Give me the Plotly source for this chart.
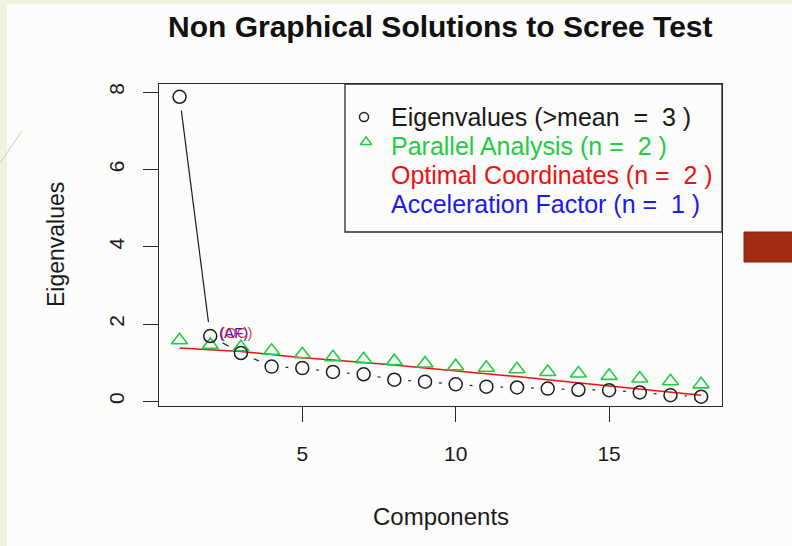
import math
import plotly.graph_objects as go

# ---------------- data ----------------
components = list(range(1, 19))
eigenvalues = [7.88, 1.69, 1.25, 0.90, 0.86, 0.76, 0.70, 0.56, 0.51,
               0.44, 0.38, 0.36, 0.33, 0.30, 0.29, 0.23, 0.16, 0.12]
parallel = [1.58, 1.46, 1.40, 1.31, 1.22, 1.14, 1.09, 1.04, 0.98,
            0.91, 0.87, 0.83, 0.76, 0.72, 0.66, 0.59, 0.52, 0.44]
optimal_coord = [1.38, 1.34, 1.29, 1.21, 1.13, 1.07, 1.01, 0.94, 0.86,
                 0.79, 0.72, 0.64, 0.56, 0.48, 0.40, 0.32, 0.24, 0.16]
x_ticks = [5, 10, 15]
y_ticks = [0, 2, 4, 6, 8]
n_mean, n_pa, n_oc, n_af = 3, 2, 2, 1
legend_labels = [
    "Eigenvalues (>mean\u00a0\u00a0=\u00a0\u00a0%d )" % n_mean,
    "Parallel Analysis (n =\u00a0\u00a0%d )" % n_pa,
    "Optimal Coordinates (n =\u00a0\u00a0%d )" % n_oc,
    "Acceleration Factor (n =\u00a0\u00a0%d )" % n_af,
]

# ---------------- layout constants ----------------
W, H = 792, 546
L, R, T, B = 159, 70, 84, 140
PW, PH = W - L - R, H - T - B
XR = [0.33, 18.68]
YR = [-0.12, 8.21]
FONT = "Liberation Sans, Arial, Helvetica, sans-serif"
BLACK = "#1e1e1e"
GREEN = "#22cc44"
RED = "#ee1111"
BLUE = "#1a1aee"


def px2x(px):
    return (px - L) / PW


def py2y(py):
    return (T + PH - py) / PH


# type="b" line: segments between points with a gap around each point
sx = PW / (XR[1] - XR[0])
sy = PH / (YR[1] - YR[0])
gap = 14.0
lx, ly = [], []
for i in range(len(components) - 1):
    x0, y0 = components[i], eigenvalues[i]
    x1, y1 = components[i + 1], eigenvalues[i + 1]
    dxp, dyp = (x1 - x0) * sx, (y1 - y0) * sy
    length = math.hypot(dxp, dyp)
    if length > 2 * gap:
        ux, uy = dxp / length, dyp / length
        lx += [x0 + gap * ux / sx, x1 - gap * ux / sx, None]
        ly += [y0 + gap * uy / sy, y1 - gap * uy / sy, None]

fig = go.Figure()

fig.add_trace(go.Scatter(x=lx, y=ly, mode="lines",
                         line=dict(color=BLACK, width=1.2),
                         hoverinfo="skip", showlegend=False))
fig.add_trace(go.Scatter(x=components, y=optimal_coord, mode="lines",
                         line=dict(color=RED, width=1.5),
                         showlegend=False, name="Optimal Coordinates"))
fig.add_trace(go.Scatter(x=components, y=parallel, mode="markers",
                         marker=dict(symbol="triangle-up-open", size=14,
                                     color=GREEN, line=dict(width=1.6, color=GREEN)),
                         showlegend=False, name="Parallel Analysis"))
fig.add_trace(go.Scatter(x=components, y=eigenvalues, mode="markers",
                         marker=dict(symbol="circle-open", size=13,
                                     color=BLACK, line=dict(width=1.5, color=BLACK)),
                         showlegend=False, name="Eigenvalues"))

# legend symbols on an overlay axis spanning [0,1] of the plot area
leg_sym_x = [px2x(364), px2x(366)]
leg_sym_y = [py2y(117), py2y(142)]
fig.add_trace(go.Scatter(x=leg_sym_x[:1], y=leg_sym_y[:1], xaxis="x2", yaxis="y2",
                         mode="markers",
                         marker=dict(symbol="circle-open", size=9, color=BLACK,
                                     line=dict(width=1.4, color=BLACK)),
                         showlegend=False, hoverinfo="skip"))
fig.add_trace(go.Scatter(x=leg_sym_x[1:], y=leg_sym_y[1:], xaxis="x2", yaxis="y2",
                         mode="markers",
                         marker=dict(symbol="triangle-up-open", size=10, color=GREEN,
                                     line=dict(width=1.4, color=GREEN)),
                         showlegend=False, hoverinfo="skip"))

annotations = []
# title
annotations.append(dict(text="<b>Non Graphical Solutions to Scree Test</b>",
                        xref="paper", yref="paper", x=0.5, y=py2y(26),
                        xanchor="center", yanchor="middle", showarrow=False,
                        font=dict(family=FONT, size=30, color="#111111")))
# axis titles
annotations.append(dict(text="Components", xref="paper", yref="paper",
                        x=0.5, y=py2y(516), xanchor="center", yanchor="middle",
                        showarrow=False, font=dict(family=FONT, size=24, color="#1a1a1a")))
annotations.append(dict(text="Eigenvalues", xref="paper", yref="paper",
                        x=px2x(56), y=0.5, xanchor="center", yanchor="middle",
                        textangle=-90, showarrow=False,
                        font=dict(family=FONT, size=23, color="#1a1a1a")))
# legend texts
leg_colors = ["#1a1a1a", GREEN, RED, BLUE]
leg_py = [117, 146, 175, 204]
for lab, col, py in zip(legend_labels, leg_colors, leg_py):
    annotations.append(dict(text=lab, xref="paper", yref="paper",
                            x=px2x(389), y=py2y(py), xanchor="left", yanchor="middle",
                            showarrow=False, font=dict(family=FONT, size=25, color=col)))
# (AF) and (OC) labels at the second eigenvalue
annotations.append(dict(text="(AF)", x=components[1], y=eigenvalues[1],
                        xanchor="left", yanchor="middle", xshift=7, yshift=4,
                        showarrow=False, font=dict(family=FONT, size=15, color=BLUE)))
annotations.append(dict(text="(OC)", x=components[1], y=eigenvalues[1],
                        xanchor="left", yanchor="middle", xshift=8, yshift=4,
                        showarrow=False, font=dict(family=FONT, size=15, color=RED),
                        opacity=0.85))

shapes = [
    # white slide area
    dict(type="rect", xref="paper", yref="paper", layer="below",
         x0=px2x(7), x1=px2x(W), y0=py2y(H), y1=py2y(4),
         fillcolor="#fcfcfb", line=dict(width=0)),
    # faint decorative diagonal
    dict(type="line", xref="paper", yref="paper", layer="above",
         x0=px2x(0), y0=py2y(163), x1=px2x(22), y1=py2y(131),
         line=dict(color="#c9ccbb", width=1)),
    # legend box
    dict(type="rect", xref="paper", yref="paper",
         x0=px2x(345), x1=1, y0=py2y(232), y1=1,
         line=dict(color="#2a2a2a", width=1.3), fillcolor="rgba(0,0,0,0)"),
    # slide accent block
    dict(type="rect", xref="paper", yref="paper",
         x0=px2x(744), x1=px2x(W + 2), y0=py2y(262), y1=py2y(232),
         fillcolor="#a22b14", line=dict(color="#8a2410", width=1)),
]

fig.update_layout(
    width=W, height=H, autosize=False,
    margin=dict(l=L, r=R, t=T, b=B, pad=0),
    paper_bgcolor="#eef2de", plot_bgcolor="#fdfdfd",
    font=dict(family=FONT, color="#1a1a1a"),
    showlegend=False,
    xaxis=dict(range=XR, tickvals=x_ticks, ticktext=[str(v) for v in x_ticks],
               ticks="outside", ticklen=15, tickwidth=1.3, tickcolor="#2a2a2a",
               showgrid=False, zeroline=False,
               showline=True, mirror=True, linecolor="#2a2a2a", linewidth=1.3,
               tickfont=dict(family=FONT, size=21, color="#1a1a1a"),
               ticklabelstandoff=14),
    yaxis=dict(range=YR, tickvals=y_ticks, ticktext=[str(v) for v in y_ticks],
               ticks="outside", ticklen=15, tickwidth=1.3, tickcolor="#2a2a2a",
               showgrid=False, zeroline=False, tickangle=-90,
               showline=True, mirror=True, linecolor="#2a2a2a", linewidth=1.3,
               tickfont=dict(family=FONT, size=21, color="#1a1a1a"),
               ticklabelstandoff=10),
    xaxis2=dict(range=[0, 1], overlaying="x", anchor="y2", visible=False),
    yaxis2=dict(range=[0, 1], overlaying="y", anchor="x2", visible=False),
    annotations=annotations,
    shapes=shapes,
)

fig.write_html("out.html",
               config={"displayModeBar": False},
               post_script="document.body.style.margin='0';document.body.style.background='#eef2de';")
